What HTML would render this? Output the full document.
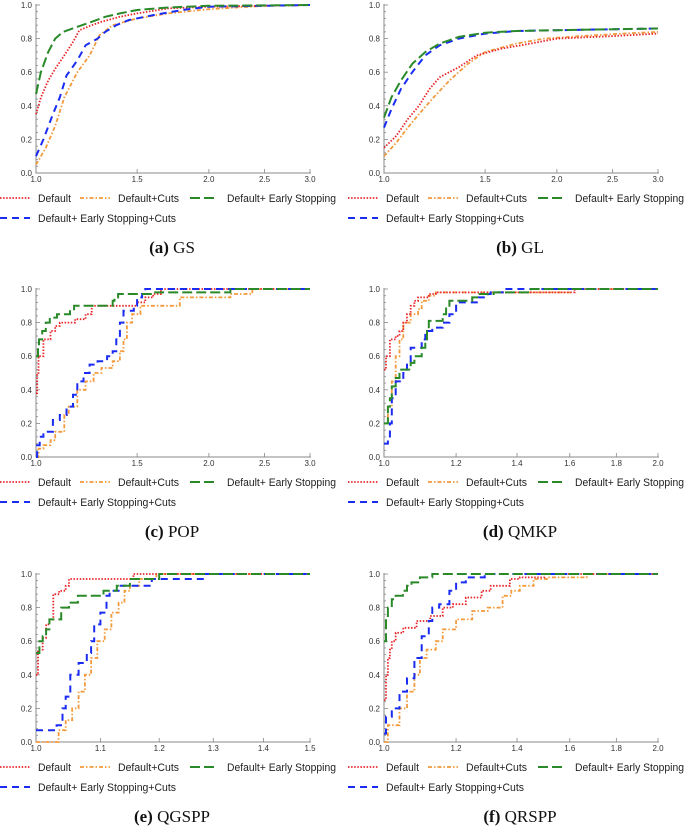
<!DOCTYPE html>
<html><head><meta charset="utf-8">
<style>
body{margin:0;background:#fff;}
svg{display:block;font-family:"Liberation Sans",sans-serif;}
</style></head>
<body>
<svg id="fig" width="685" height="828" viewBox="0 0 685 828" xmlns="http://www.w3.org/2000/svg"></svg>
<script>
// Panel (a) GS
const gsDefault=[[1,0.35],[1.02,0.45],[1.05,0.55],[1.08,0.62],[1.12,0.7],[1.16,0.78],[1.19,0.85],[1.25,0.88],[1.3,0.9],[1.4,0.93],[1.5,0.95],[1.7,0.98],[2,0.99],[3,1]];
const gsCuts=[[1,0.05],[1.04,0.15],[1.08,0.28],[1.12,0.45],[1.18,0.6],[1.24,0.7],[1.29,0.82],[1.36,0.88],[1.5,0.92],[1.7,0.95],[2,0.975],[2.5,0.995],[3,1]];
const gsEarly=[[1,0.47],[1.02,0.6],[1.05,0.72],[1.08,0.8],[1.115,0.84],[1.18,0.87],[1.25,0.9],[1.32,0.93],[1.4,0.95],[1.5,0.97],[1.7,0.985],[2,0.995],[3,1]];
const gsEarlyCuts=[[1,0.1],[1.03,0.2],[1.07,0.35],[1.1,0.45],[1.13,0.58],[1.18,0.67],[1.22,0.76],[1.28,0.8],[1.32,0.84],[1.38,0.88],[1.45,0.91],[1.6,0.94],[1.8,0.97],[2,0.99],[3,1]];
// Panel (b) GL
const glDefault=[[1,0.15],[1.05,0.22],[1.1,0.32],[1.15,0.4],[1.2,0.5],[1.25,0.57],[1.35,0.63],[1.45,0.7],[1.6,0.74],[1.8,0.77],[2,0.8],[2.5,0.815],[3,0.83]];
const glCuts=[[1,0.1],[1.05,0.18],[1.1,0.27],[1.15,0.35],[1.22,0.45],[1.3,0.55],[1.4,0.65],[1.5,0.72],[1.7,0.77],[1.9,0.8],[2.2,0.815],[2.6,0.83],[3,0.84]];
const glEarly=[[1,0.33],[1.03,0.45],[1.07,0.55],[1.12,0.65],[1.18,0.72],[1.25,0.77],[1.35,0.81],[1.5,0.835],[1.7,0.845],[2,0.85],[3,0.86]];
const glEarlyCuts=[[1,0.27],[1.03,0.38],[1.07,0.5],[1.12,0.6],[1.18,0.7],[1.25,0.76],[1.35,0.8],[1.5,0.83],[1.7,0.845],[2,0.85],[3,0.86]];
// Panel (c) POP (step)
const popDefault=[[1,0.38],[1.005,0.5],[1.01,0.6],[1.03,0.7],[1.06,0.75],[1.08,0.78],[1.1,0.8],[1.17,0.82],[1.22,0.85],[1.25,0.9],[1.5,0.92],[1.55,0.95],[1.6,0.97],[1.65,1],[3,1]];
const popCuts=[[1,0],[1.01,0.05],[1.03,0.07],[1.06,0.1],[1.08,0.15],[1.12,0.25],[1.14,0.3],[1.18,0.4],[1.22,0.45],[1.26,0.5],[1.3,0.53],[1.36,0.57],[1.4,0.63],[1.42,0.7],[1.44,0.8],[1.47,0.85],[1.52,0.9],[1.78,0.95],[2.18,0.97],[2.38,1],[3,1]];
const popEarly=[[1,0.6],[1.008,0.65],[1.012,0.7],[1.025,0.75],[1.04,0.8],[1.057,0.83],[1.088,0.85],[1.146,0.88],[1.165,0.9],[1.36,0.93],[1.37,0.95],[1.39,0.97],[1.6,0.98],[2.18,1],[3,1]];
const popEarlyCuts=[[1,0],[1.005,0.07],[1.015,0.12],[1.03,0.15],[1.07,0.22],[1.1,0.25],[1.13,0.3],[1.16,0.37],[1.18,0.45],[1.21,0.5],[1.24,0.55],[1.28,0.57],[1.33,0.6],[1.36,0.63],[1.38,0.7],[1.4,0.8],[1.42,0.87],[1.48,0.9],[1.5,0.95],[1.53,0.97],[1.55,1],[3,1]];
// Panel (d) QMKP (step)
const qmkpDefault=[[1,0.52],[1.005,0.6],[1.015,0.7],[1.03,0.72],[1.04,0.75],[1.05,0.8],[1.06,0.85],[1.07,0.9],[1.08,0.93],[1.09,0.95],[1.12,0.97],[1.14,0.98],[1.62,1],[2,1]];
const qmkpCuts=[[1,0.2],[1.01,0.3],[1.02,0.45],[1.03,0.6],[1.04,0.7],[1.05,0.8],[1.07,0.85],[1.09,0.88],[1.1,0.93],[1.12,0.96],[1.14,0.98],[1.6,1],[2,1]];
const qmkpEarly=[[1,0.2],[1.01,0.3],[1.015,0.35],[1.02,0.42],[1.03,0.47],[1.04,0.52],[1.07,0.56],[1.08,0.6],[1.1,0.65],[1.11,0.7],[1.115,0.75],[1.12,0.81],[1.16,0.85],[1.17,0.9],[1.18,0.93],[1.25,0.95],[1.27,0.97],[1.32,0.98],[1.45,1],[2,1]];
const qmkpEarlyCuts=[[1,0.08],[1.01,0.1],[1.015,0.2],[1.02,0.35],[1.03,0.45],[1.05,0.5],[1.06,0.55],[1.07,0.65],[1.1,0.7],[1.11,0.75],[1.13,0.77],[1.16,0.8],[1.18,0.85],[1.2,0.92],[1.27,0.95],[1.3,0.97],[1.31,0.98],[1.35,1],[2,1]];
// Panel (e) QGSPP (step)
const qgDefault=[[1,0.4],[1.003,0.55],[1.01,0.62],[1.015,0.7],[1.02,0.73],[1.026,0.88],[1.035,0.9],[1.045,0.93],[1.05,0.97],[1.155,1],[1.5,1]];
const qgCuts=[[1,0],[1.034,0.07],[1.045,0.13],[1.055,0.2],[1.065,0.3],[1.075,0.4],[1.085,0.5],[1.095,0.6],[1.107,0.67],[1.118,0.77],[1.13,0.83],[1.14,0.9],[1.149,0.93],[1.165,0.97],[1.195,1],[1.5,1]];
const qgEarly=[[1,0.53],[1.005,0.6],[1.01,0.63],[1.015,0.67],[1.02,0.73],[1.038,0.8],[1.05,0.83],[1.064,0.87],[1.105,0.9],[1.127,0.93],[1.149,0.97],[1.2,1],[1.5,1]];
const qgEarlyCuts=[[1,0.07],[1.031,0.1],[1.04,0.2],[1.045,0.27],[1.052,0.4],[1.065,0.47],[1.078,0.53],[1.085,0.6],[1.09,0.7],[1.1,0.77],[1.11,0.87],[1.115,0.9],[1.13,0.93],[1.187,0.97],[1.28,1],[1.5,1]];
// Panel (f) QRSPP (step)
const qrDefault=[[1,0.25],[1.005,0.4],[1.01,0.5],[1.015,0.55],[1.02,0.6],[1.03,0.65],[1.05,0.68],[1.086,0.72],[1.124,0.75],[1.16,0.8],[1.19,0.82],[1.23,0.86],[1.28,0.9],[1.31,0.93],[1.375,0.97],[1.41,0.98],[1.5,1],[2,1]];
const qrCuts=[[1,0],[1.01,0.1],[1.04,0.2],[1.06,0.3],[1.08,0.4],[1.095,0.5],[1.114,0.55],[1.14,0.6],[1.16,0.67],[1.2,0.73],[1.25,0.78],[1.3,0.8],[1.35,0.87],[1.38,0.9],[1.41,0.93],[1.46,0.97],[1.51,0.98],[1.67,1],[2,1]];
const qrEarly=[[1,0.6],[1.005,0.75],[1.01,0.8],[1.02,0.85],[1.03,0.87],[1.049,0.9],[1.06,0.93],[1.072,0.95],[1.095,0.98],[1.13,1],[2,1]];
const qrEarlyCuts=[[1,0.05],[1.005,0.15],[1.02,0.2],[1.04,0.3],[1.06,0.38],[1.08,0.5],[1.1,0.63],[1.12,0.72],[1.13,0.8],[1.15,0.82],[1.18,0.9],[1.2,0.95],[1.23,0.98],[1.29,1],[2,1]];

const xTicksA=[1.0,1.5,2.0,2.5,3.0];
const xTicksD=[1.0,1.2,1.4,1.6,1.8,2.0];
const xTicksE=[1.0,1.1,1.2,1.3,1.4,1.5];
const yTicks=[0.0,0.2,0.4,0.6,0.8,1.0];

const NS="http://www.w3.org/2000/svg";
const svg=document.getElementById('fig');
function mk(tag,attrs,parent){const e=document.createElementNS(NS,tag);for(const k in attrs)e.setAttribute(k,attrs[k]);(parent||svg).appendChild(e);return e;}

const styles={
 def:{c:'#e8262a',d:'1.5 1.6',w:1.8},
 cuts:{c:'#f29a3c',d:'4 2 1.5 2',w:1.8},
 early:{c:'#2a8a2a',d:'10 4',w:2},
 earlyCuts:{c:'#1a2cf2',d:'7 5',w:2}
};

function panel(id,L,top,xmax,xticks,series,step,cap1,cap2){
  const x0=L+36,x1=L+310,y0=top+168,y1=top;
  const g=mk('g',{});
  
  
  const sx=v=>x0+(x1-x0)*Math.log(v)/Math.log(xmax);
  const sy=v=>y0-(y0-y1)*v;
  const ax=mk('path',{d:`M${x0} ${y1-1}V${y0}H${x1+1}`,stroke:'#888',fill:'none','stroke-width':1},g);
  
  
  for(let i=0;i<=25;i++){const v=i/25;const yy=sy(v);const major=i%5===0;
    mk('line',{x1:x0,x2:x0+(major?4:2),y1:yy,y2:yy,stroke:'#888','stroke-width':0.8},g);}
  yTicks.forEach(v=>{const t=mk('text',{x:x0-4,y:sy(v)+3,'font-size':8,'text-anchor':'end',fill:'#333'},g);t.textContent=v.toFixed(1);
    
    });
  xticks.forEach(v=>{const xx=sx(v);mk('line',{x1:xx,x2:xx,y1:y0,y2:y0-4,stroke:'#888','stroke-width':0.8},g);
    const t=mk('text',{x:xx,y:y0+9,'font-size':8,'text-anchor':'middle',fill:'#333'},g);t.textContent=v.toFixed(1);
    
    });
  const order=['cuts','def','earlyCuts','early'];
  const names={def:'default',cuts:'default-cuts',early:'default-early-stopping',earlyCuts:'default-early-stopping-cuts'};
  order.forEach(k=>{const pts=series[k];const s=styles[k];let d='';
    pts.forEach((p,i)=>{const X=sx(p[0]).toFixed(1),Y=sy(p[1]).toFixed(1);
      if(i===0)d+=`M${X} ${Y}`;else if(step)d+=`H${X}V${Y}`;else d+=`L${X} ${Y}`;});
    const p=mk('path',{d:d,fill:'none',stroke:s.c,'stroke-width':s.w,'stroke-dasharray':s.d},g);
    
    });
  const lg=mk('g',{},g);
  
  
  const ly=top+193,ly2=top+213;
  const items=[['def',L+0,L+30,L+38,ly,'Default',33],['cuts',L+80,L+110,L+118,ly,'Default+Cuts',61],['early',L+190,L+218,L+227,ly,'Default+ Early Stopping',109],['earlyCuts',L+0,L+30,L+38,ly2,'Default+ Early Stopping+Cuts',138]];
  items.forEach(it=>{const s=styles[it[0]];
    mk('line',{x1:it[1],x2:it[2],y1:it[4],y2:it[4],stroke:s.c,'stroke-width':s.w,'stroke-dasharray':s.d},lg);
    const t=mk('text',{x:it[3],y:it[4]+4,'font-size':11,fill:'#222',textLength:it[6],lengthAdjust:'spacingAndGlyphs'},lg);t.textContent=it[5];
    
    });
  const cap=mk('text',{x:L+172,y:top+248,'font-size':17,'text-anchor':'middle',fill:'#111','font-family':'"Liberation Serif",serif'},g);
  
  
  const b=mk('tspan',{'font-weight':'bold'},cap);b.textContent=cap1+' ';
  const r=mk('tspan',{},cap);r.textContent=cap2;
}

panel('a',0,5,3,xTicksA,{def:gsDefault,cuts:gsCuts,early:gsEarly,earlyCuts:gsEarlyCuts},false,'(a)','GS');
panel('b',348,5,3,xTicksA,{def:glDefault,cuts:glCuts,early:glEarly,earlyCuts:glEarlyCuts},false,'(b)','GL');
panel('c',0,289,3,xTicksA,{def:popDefault,cuts:popCuts,early:popEarly,earlyCuts:popEarlyCuts},true,'(c)','POP');
panel('d',348,289,2,xTicksD,{def:qmkpDefault,cuts:qmkpCuts,early:qmkpEarly,earlyCuts:qmkpEarlyCuts},true,'(d)','QMKP');
panel('e',0,574,1.5,xTicksE,{def:qgDefault,cuts:qgCuts,early:qgEarly,earlyCuts:qgEarlyCuts},true,'(e)','QGSPP');
panel('f',348,574,2,xTicksD,{def:qrDefault,cuts:qrCuts,early:qrEarly,earlyCuts:qrEarlyCuts},true,'(f)','QRSPP');
</script>
</body></html>
